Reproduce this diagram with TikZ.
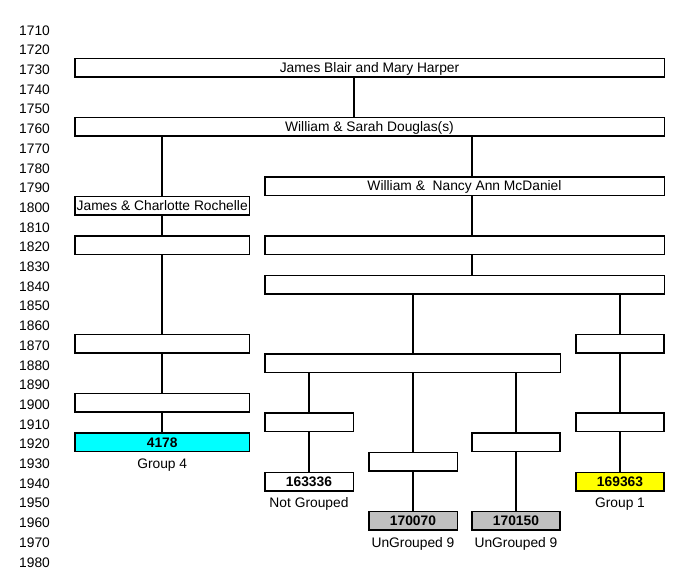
\documentclass[tikz,border=0pt]{standalone}
\usepackage{fontspec}
\setmainfont{Liberation Sans}
\begin{document}
\begin{tikzpicture}[x=1pt,y=-1pt,
  declare function={yc(\t)=30.2+(\t-1710)*1.97; yb(\t)=28.4+(\t-1710)*1.97;},
  every node/.style={font=\fontsize{13.8}{16}\selectfont, inner sep=0pt},
  box/.style={draw=black, line width=1.5pt, fill=white, minimum height=18.5pt,
    text height=9.8pt, text depth=0pt, anchor=center},
  num/.style={box, font=\fontsize{13.8}{16}\selectfont\bfseries},
  yearlbl/.style={anchor=west, text height=9.8pt, text depth=0pt},
  sub/.style={anchor=center, text height=9.8pt, text depth=0pt},
  link/.style={line width=1.5pt}]
\useasboundingbox (0,0) rectangle (680,571);
% year scale
\foreach \Y in {1710,1720,...,1980}{
  \node[yearlbl] (y\Y) at (19,{yc(\Y)}) {\Y};
}
% boxes
\node[box, minimum width=589.5pt] (jb) at (369.5,{yb(1730)}) {James Blair and Mary Harper};
\node[box, minimum width=589.5pt] (ws) at (369.5,{yb(1760)}) {William \& Sarah Douglas(s)};
\node[box, minimum width=399.5pt] (wn) at (464.5,{yb(1790)}) {William \&\ \ Nancy Ann McDaniel};
\node[box, minimum width=174.8pt] (jc) at (162.2,{yb(1800)}) {James \& Charlotte Rochelle};
\node[box, minimum width=174.8pt] (l1820) at (162.2,{yb(1820)}) {};
\node[box, minimum width=399.5pt] (r1820) at (464.5,{yb(1820)}) {};
\node[box, minimum width=399.5pt] (r1840) at (464.5,{yb(1840)}) {};
\node[box, minimum width=174.8pt] (l1870) at (162.2,{yb(1870)}) {};
\node[box, minimum width=88.2pt] (rr1870) at (620,{yb(1870)}) {};
\node[box, minimum width=295.5pt] (m1880) at (412.5,{yb(1880)}) {};
\node[box, minimum width=174.8pt] (l1900) at (162.2,{yb(1900)}) {};
\node[box, minimum width=88.5pt] (a1910) at (309,{yb(1910)}) {};
\node[box, minimum width=88.2pt] (rr1910) at (620,{yb(1910)}) {};
\node[num, fill={rgb,255:red,0;green,255;blue,255}, minimum width=174.8pt] (n4178) at (162.2,{yb(1920)}) {4178};
\node[box, minimum width=88.2pt] (c1920) at (516,{yb(1920)}) {};
\node[box, minimum width=88.5pt] (b1930) at (413,{yb(1930)}) {};
\node[num, minimum width=88.5pt] (n163336) at (309,{yb(1940)}) {163336};
\node[num, fill={rgb,255:red,255;green,255;blue,0}, minimum width=88.2pt] (n169363) at (620,{yb(1940)}) {169363};
\node[num, fill={rgb,255:red,192;green,192;blue,192}, minimum width=88.5pt] (n170070) at (413,{yb(1960)}) {170070};
\node[num, fill={rgb,255:red,192;green,192;blue,192}, minimum width=88.2pt] (n170150) at (516,{yb(1960)}) {170150};
% labels below boxes
\node[sub] (g4) at (162.2,{yc(1930)}) {Group 4};
\node[sub] (ng) at (309,{yc(1950)}) {Not Grouped};
\node[sub] (g1) at (620,{yc(1950)}) {Group 1};
\node[sub] (u1) at (413,{yc(1970)}) {UnGrouped 9};
\node[sub] (u2) at (516,{yc(1970)}) {UnGrouped 9};
% connector columns
\coordinate (x354) at (354,0);
\coordinate (x472) at (472,0);
% connectors
\draw[link] (jb.south -| x354) -- (ws.north -| x354);
\draw[link] (ws.south -| jc.north) -- (jc.north);
\draw[link] (jc) -- (l1820);
\draw[link] (l1820) -- (l1870);
\draw[link] (l1870) -- (l1900);
\draw[link] (l1900) -- (n4178);
\draw[link] (ws.south -| x472) -- (wn.north -| x472);
\draw[link] (wn.south -| x472) -- (r1820.north -| x472);
\draw[link] (r1820.south -| x472) -- (r1840.north -| x472);
\draw[link] (r1840.south -| b1930.north) -- (m1880.north -| b1930.north);
\draw[link] (r1840.south -| rr1870.north) -- (rr1870.north);
\draw[link] (rr1870) -- (rr1910);
\draw[link] (rr1910) -- (n169363);
\draw[link] (m1880.south -| a1910.north) -- (a1910.north);
\draw[link] (a1910) -- (n163336);
\draw[link] (m1880.south -| b1930.north) -- (b1930.north);
\draw[link] (b1930) -- (n170070);
\draw[link] (m1880.south -| c1920.north) -- (c1920.north);
\draw[link] (c1920) -- (n170150);
\end{tikzpicture}
\end{document}
